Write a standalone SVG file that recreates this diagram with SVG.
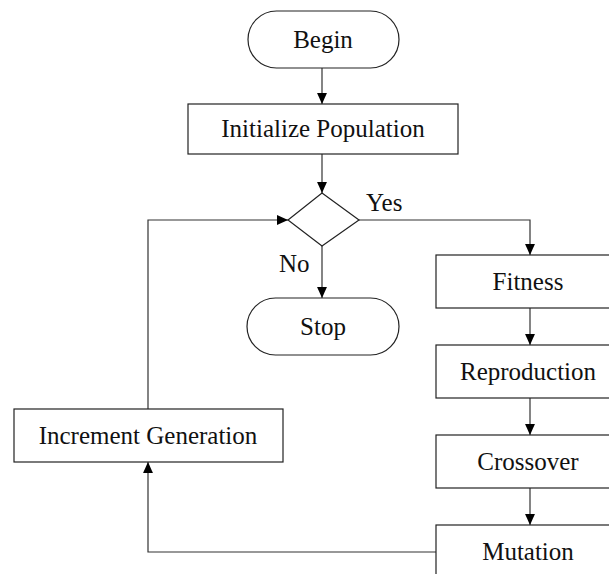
<svg xmlns="http://www.w3.org/2000/svg" width="609" height="574" viewBox="0 0 609 574">
<style>
.s{fill:#fff;stroke:#222;stroke-width:1.2}
.c{fill:none;stroke:#333;stroke-width:1.2}
text{font-family:"Liberation Serif","Times New Roman",serif;font-size:25px;fill:#111}
.m{text-anchor:middle}
</style>
<defs>
<marker id="a" viewBox="0 0 10 10" refX="10" refY="5" markerWidth="11" markerHeight="11" markerUnits="userSpaceOnUse" orient="auto">
<path d="M0,0.5 L10,5 L0,9.5 Z" fill="#000"/>
</marker>
</defs>
<g id="connectors">
<line class="c" x1="322" y1="68" x2="322" y2="104" marker-end="url(#a)"/>
<line class="c" x1="322" y1="154" x2="322" y2="193" marker-end="url(#a)"/>
<line class="c" x1="322" y1="246" x2="322" y2="298" marker-end="url(#a)"/>
<polyline class="c" points="359,220 530,220 530,255" marker-end="url(#a)"/>
<line class="c" x1="530" y1="308" x2="530" y2="345" marker-end="url(#a)"/>
<line class="c" x1="530" y1="398" x2="530" y2="435" marker-end="url(#a)"/>
<line class="c" x1="530" y1="488" x2="530" y2="525" marker-end="url(#a)"/>
<polyline class="c" points="436,552 148,552 148,462" marker-end="url(#a)"/>
<polyline class="c" points="148,409 148,220 288,220" marker-end="url(#a)"/>
<text x="366" y="211">Yes</text>
<text x="279" y="272">No</text>
</g>
<g id="begin">
<rect class="s" x="248" y="11" width="151" height="57" rx="28.5"/>
<text class="m" x="323" y="48">Begin</text>
</g>
<g id="init">
<rect class="s" x="188" y="104" width="270" height="50"/>
<text class="m" x="323" y="137">Initialize Population</text>
</g>
<g id="decision">
<polygon class="s" points="322,193 359,220 322,246 288,220"/>
</g>
<g id="stop">
<rect class="s" x="247" y="298" width="152" height="57" rx="28.5"/>
<text class="m" x="323" y="335">Stop</text>
</g>
<g id="fitness">
<rect class="s" x="436" y="255" width="184" height="53"/>
<text class="m" x="528" y="290">Fitness</text>
</g>
<g id="reproduction">
<rect class="s" x="436" y="345" width="184" height="53"/>
<text class="m" x="528" y="380">Reproduction</text>
</g>
<g id="crossover">
<rect class="s" x="436" y="435" width="184" height="53"/>
<text class="m" x="528" y="470">Crossover</text>
</g>
<g id="mutation">
<rect class="s" x="436" y="525" width="184" height="53"/>
<text class="m" x="528" y="560">Mutation</text>
</g>
<g id="increment">
<rect class="s" x="14" y="409" width="269" height="53"/>
<text class="m" x="148" y="444">Increment Generation</text>
</g>
</svg>
